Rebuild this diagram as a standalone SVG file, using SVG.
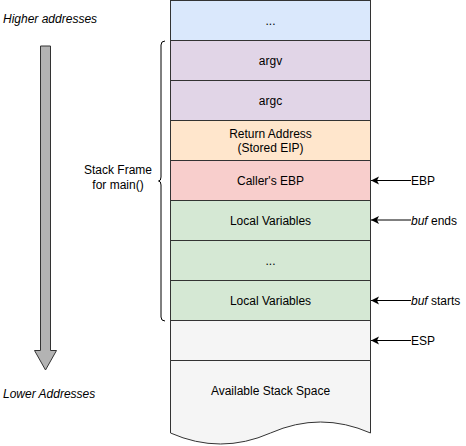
<svg xmlns="http://www.w3.org/2000/svg" width="466" height="446" viewBox="0 0 466 446">
<style>
  text { font-family: "Liberation Sans", Arial, Helvetica, sans-serif; font-size: 12px; fill: #000; }
  .c { text-anchor: middle; }
  .it { font-style: italic; }
  .row { stroke: #333; stroke-width: 1; }
  .conn { stroke: #000; stroke-width: 1; fill: none; }
</style>
<defs>
  <marker id="ah" markerUnits="userSpaceOnUse" markerWidth="10" markerHeight="10" refX="8" refY="4" orient="auto">
    <path d="M0,0 L8,4 L0,8 L2,4 Z" fill="#000"/>
  </marker>
</defs>
<rect width="466" height="446" fill="#fff"/>

<g id="label-higher"><text class="it" x="3" y="23">Higher addresses</text></g>
<g id="label-lower"><text class="it" x="3" y="398">Lower Addresses</text></g>

<g id="direction-arrow">
  <path d="M40.5,46 H50.5 V350.5 H56.5 L45.5,370 L34.5,350.5 H40.5 Z" fill="#b3b3b3" stroke="#333" stroke-width="1"/>
</g>

<g id="stack-frame-label">
  <text class="c" x="118" y="174">Stack Frame</text>
  <text class="c" x="118" y="188.5">for main()</text>
</g>

<g id="brace">
  <path d="M165,41 Q161,41 161,45 V177 Q161,181 158.5,181 Q161,181 161,185 V317 Q161,321 165,321" fill="none" stroke="#000" stroke-width="1"/>
</g>

<g id="row-top"><rect class="row" x="170.5" y="0.5" width="200" height="40" fill="#dae8fc"/><text class="c" x="270.5" y="24.5">...</text></g>
<g id="row-argv"><rect class="row" x="170.5" y="40.5" width="200" height="40" fill="#e1d5e7"/><text class="c" x="270.5" y="64.5">argv</text></g>
<g id="row-argc"><rect class="row" x="170.5" y="80.5" width="200" height="40" fill="#e1d5e7"/><text class="c" x="270.5" y="104.5">argc</text></g>
<g id="row-ret"><rect class="row" x="170.5" y="120.5" width="200" height="40" fill="#ffe6cc"/><text class="c" x="270.5" y="137.5">Return Address</text><text class="c" x="270.5" y="152">(Stored EIP)</text></g>
<g id="row-ebp"><rect class="row" x="170.5" y="160.5" width="200" height="40" fill="#f8cecc"/><text class="c" x="270.5" y="184.5">Caller's EBP</text></g>
<g id="row-local1"><rect class="row" x="170.5" y="200.5" width="200" height="40" fill="#d5e8d4"/><text class="c" x="270.5" y="224.5">Local Variables</text></g>
<g id="row-dots"><rect class="row" x="170.5" y="240.5" width="200" height="40" fill="#d5e8d4"/><text class="c" x="270.5" y="264.5">...</text></g>
<g id="row-local2"><rect class="row" x="170.5" y="280.5" width="200" height="40" fill="#d5e8d4"/><text class="c" x="270.5" y="304.5">Local Variables</text></g>
<g id="row-empty"><rect class="row" x="170.5" y="320.5" width="200" height="40" fill="#f5f5f5"/></g>
<g id="row-available">
  <path class="row" d="M170.5,360.5 H370.5 V433 Q320.5,411 270.5,433 Q220.5,455 170.5,433 Z" fill="#f5f5f5"/>
  <text class="c" x="270.5" y="395">Available Stack Space</text>
</g>

<g id="connectors">
  <line class="conn" x1="411" y1="180.5" x2="371" y2="180.5" marker-end="url(#ah)"/>
  <line class="conn" x1="411" y1="220" x2="371" y2="220" marker-end="url(#ah)"/>
  <line class="conn" x1="411" y1="300.5" x2="371" y2="300.5" marker-end="url(#ah)"/>
  <line class="conn" x1="411" y1="340.5" x2="371" y2="340.5" marker-end="url(#ah)"/>
</g>

<g id="pointer-labels">
  <text x="411" y="185">EBP</text>
  <text x="411" y="224.5"><tspan class="it">buf</tspan> ends</text>
  <text x="411" y="305"><tspan class="it">buf</tspan> starts</text>
  <text x="411" y="345">ESP</text>
</g>
</svg>
